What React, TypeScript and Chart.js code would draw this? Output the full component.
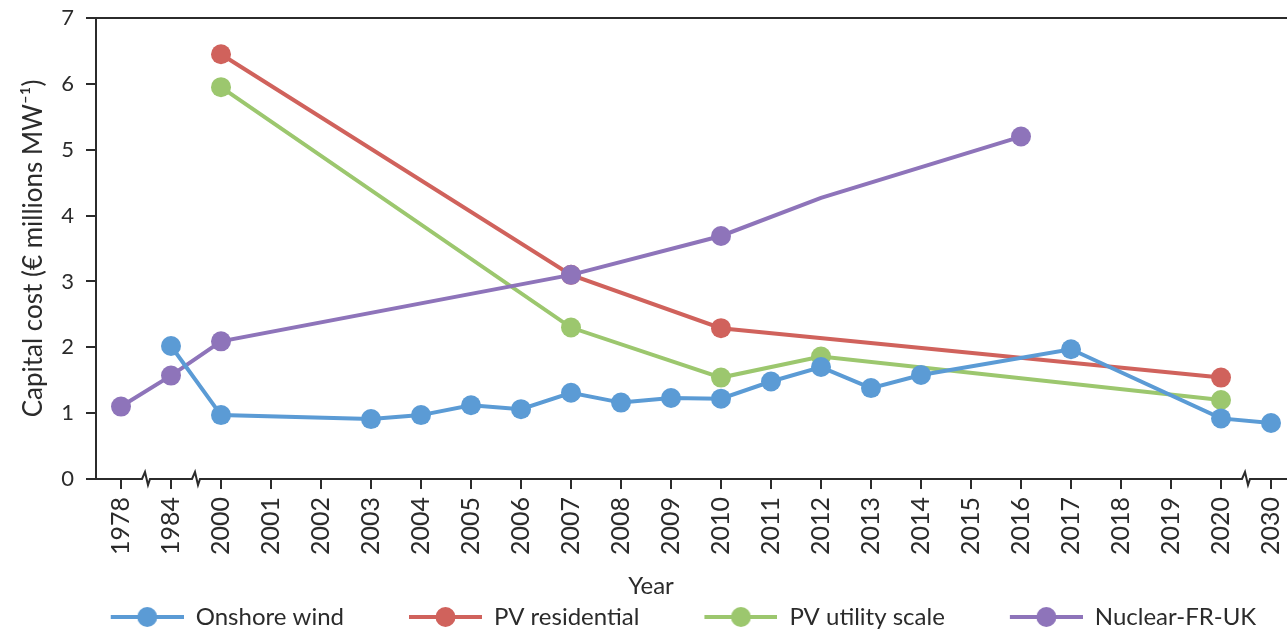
import { useEffect, useRef } from 'react';
import { Chart, registerables } from 'chart.js';

Chart.register(...registerables);

// ---- data ----
const years = [
  '1978', '1984', '2000', '2001', '2002', '2003', '2004', '2005', '2006', '2007', '2008', '2009',
  '2010', '2011', '2012', '2013', '2014', '2015', '2016', '2017', '2018', '2019', '2020', '2030',
];

const onshoreWind = [
  null, 2.02, 0.97, null, null, 0.91, 0.97, 1.12, 1.06, 1.31, 1.16, 1.23,
  1.22, 1.48, 1.70, 1.38, 1.58, null, null, 1.97, null, null, 0.92, 0.85,
];
const pvResidential = [
  null, null, 6.45, null, null, null, null, null, null, 3.10, null, null,
  2.29, null, null, null, null, null, null, null, null, null, 1.54, null,
];
const pvUtility = [
  null, null, 5.95, null, null, null, null, null, null, 2.30, null, null,
  1.54, null, 1.86, null, null, null, null, null, null, null, 1.20, null,
];
const nuclear = [
  1.10, 1.57, 2.09, null, null, null, null, null, null, 3.10, null, null,
  3.69, null, 4.27, null, null, null, 5.20, null, null, null, null, null,
];

const seriesNames = ['Onshore wind', 'PV residential', 'PV utility scale', 'Nuclear-FR-UK'];
const seriesColors = ['#5B9BD5', '#D0625C', '#9CC76E', '#8E74BA'];
const seriesOrder = [0, 2, 3, 1];
const nuclearUnmarkedYears = ['2012'];
const breakAfterYears = ['1978', '1984', '2020'];

const yMin = 0;
const yMax = 7;
const yStep = 1;
const yTitle = 'Capital cost (€ millions MW⁻¹)';
const xTitle = 'Year';

const axisColor = '#2b2b2b';
const textColor = '#2b2b2b';
const MARKER_R = 10;
const LINE_W = 4;
const FONT = 'Lato, "Noto Sans", sans-serif';
const X_TITLE_CENTER = 651;

function makeLegendImage(color: string): HTMLCanvasElement {
  const c = document.createElement('canvas');
  c.width = 125;
  c.height = 24;
  const g = c.getContext('2d')!;
  g.strokeStyle = color;
  g.lineWidth = LINE_W;
  g.beginPath();
  g.moveTo(52, 12);
  g.lineTo(125, 12);
  g.stroke();
  g.fillStyle = color;
  g.beginPath();
  g.arc(88.5, 12, MARKER_R, 0, Math.PI * 2);
  g.fill();
  return c;
}

const breakPlugin = {
  id: 'axisBreaks',
  afterDraw(chart: any) {
    const xs = chart.scales.x;
    const ctx = chart.ctx;
    const y = xs.top;
    ctx.save();
    breakAfterYears.forEach((yr) => {
      const i = years.indexOf(yr);
      const x = (xs.getPixelForValue(i) + xs.getPixelForValue(i + 1)) / 2;
      ctx.fillStyle = '#ffffff';
      ctx.fillRect(x - 6, y - 2, 12, 4);
      ctx.strokeStyle = axisColor;
      ctx.lineWidth = 2;
      ctx.beginPath();
      ctx.moveTo(x - 8, y);
      ctx.lineTo(x - 4, y);
      ctx.lineTo(x - 1, y - 7);
      ctx.lineTo(x + 2, y + 6);
      ctx.lineTo(x + 4, y);
      ctx.lineTo(x + 8, y);
      ctx.stroke();
    });
    // x-axis title
    ctx.fillStyle = textColor;
    ctx.font = `24px ${FONT}`;
    ctx.textAlign = 'center';
    ctx.textBaseline = 'middle';
    ctx.fillText(xTitle, X_TITLE_CENTER, xs.bottom - 6);
    ctx.restore();
  },
};

export default function App() {
  const ref = useRef<HTMLCanvasElement | null>(null);

  useEffect(() => {
    if (!ref.current) return;
    Chart.defaults.font.family = FONT;
    const legendImages = seriesColors.map(makeLegendImage);
    const allSeries = [onshoreWind, pvResidential, pvUtility, nuclear];

    const datasets = allSeries.map((data, k) => ({
      label: seriesNames[k],
      data,
      borderColor: seriesColors[k],
      backgroundColor: seriesColors[k],
      pointBackgroundColor: seriesColors[k],
      pointBorderWidth: 0,
      pointRadius: k === 3 ? years.map((yr) => (nuclearUnmarkedYears.includes(yr) ? 0 : MARKER_R)) : MARKER_R,
      borderWidth: LINE_W,
      tension: 0,
      spanGaps: true,
      order: seriesOrder[k],
      yAxisID: 'y',
    }));

    const chart = new Chart(ref.current, {
      type: 'line',
      data: { labels: years, datasets },
      plugins: [breakPlugin],
      options: {
        animation: false,
        responsive: false,
        devicePixelRatio: 1,
        events: [],
        layout: { padding: { left: 0, right: 0, top: 18, bottom: 0 } },
        plugins: {
          tooltip: { enabled: false },
          legend: {
            position: 'bottom',
            labels: {
              usePointStyle: true,
              pointStyleWidth: 125,
              padding: 13,
              color: textColor,
              font: { size: 24 },
              sort: (a: any, b: any) => a.datasetIndex - b.datasetIndex,
              generateLabels: (ch: any) => {
                const items = Chart.defaults.plugins.legend.labels.generateLabels(ch);
                return items.map((it: any) => ({ ...it, pointStyle: legendImages[it.datasetIndex] }));
              },
            },
          },
        },
        scales: {
          x: {
            type: 'category',
            offset: true,
            grid: { offset: false, drawOnChartArea: false, tickLength: 10, tickColor: axisColor, lineWidth: 2 },
            border: { color: axisColor, width: 2 },
            ticks: { autoSkip: false, minRotation: 90, maxRotation: 90, padding: 8, color: textColor, font: { size: 25 } },
            title: { display: false },
            afterFit: (s: any) => { s.height = 113; },
          },
          y: {
            type: 'linear',
            min: yMin,
            max: yMax,
            ticks: { stepSize: yStep, padding: 12, color: textColor, font: { size: 22 } },
            grid: {
              color: (c: any) => (c.tick && c.tick.value === yMax ? axisColor : 'rgba(0,0,0,0)'),
              tickColor: axisColor,
              tickLength: 10,
              lineWidth: 2,
            },
            border: { color: axisColor, width: 2 },
            title: { display: true, text: yTitle, color: textColor, font: { size: 26 }, padding: { top: 18, bottom: 0 } },
            afterFit: (s: any) => { s.width = 96; s.paddingTop = 0; s.paddingBottom = 0; },
          },
          yR: {
            type: 'linear',
            position: 'right',
            display: true,
            grid: { display: false, drawTicks: false },
            ticks: { display: false },
            border: { display: false },
            afterFit: (s: any) => { s.width = 19; },
          },
        },
      } as any,
    });
    return () => chart.destroy();
  }, []);

  return (
    <div style={{ position: 'fixed', left: 0, top: 0, width: 1287, height: 634, overflow: 'hidden', background: '#ffffff' }}>
      <canvas ref={ref} width={1315} height={639} style={{ display: 'block', width: 1315, height: 639 }} />
    </div>
  );
}
